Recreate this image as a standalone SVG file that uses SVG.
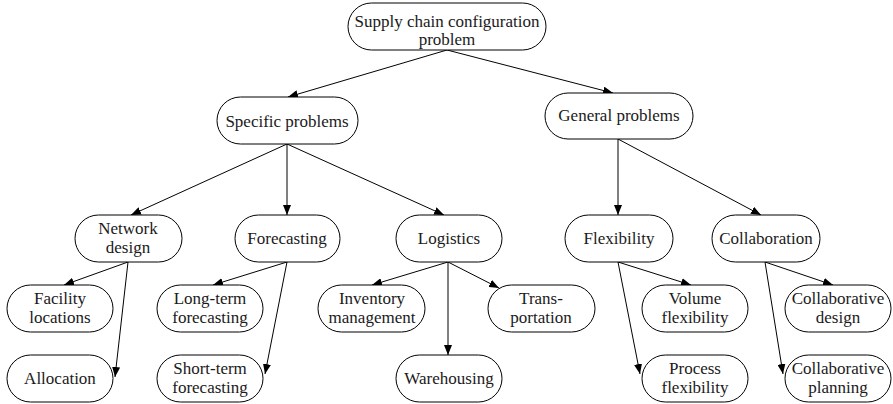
<svg xmlns="http://www.w3.org/2000/svg" width="893" height="404" viewBox="0 0 893 404">
  <style>
    .box { fill: #ffffff; stroke: #000000; stroke-width: 1; }
    .lbl { font-family: "Liberation Serif", "Times New Roman", serif; font-size: 17px; fill: #1a1a1a; text-anchor: middle; }
    .edge { fill: none; stroke: #000000; stroke-width: 1; marker-end: url(#arrow); }
  </style>
  <defs>
    <marker id="arrow" viewBox="0 0 10 8" refX="10" refY="4" markerWidth="10" markerHeight="8" markerUnits="userSpaceOnUse" orient="auto">
      <path d="M0,0 L10,4 L0,8 Z" fill="#000000"/>
    </marker>
  </defs>
  <rect width="893" height="404" fill="#ffffff"/>

  <g id="connectors">
    <path class="edge" d="M447,50 L288,97"/>
    <path class="edge" d="M447,50 L613,93"/>
    <path class="edge" d="M287,144 L131,215"/>
    <path class="edge" d="M287,144 L287,215"/>
    <path class="edge" d="M287,144 L444,215"/>
    <path class="edge" d="M618,139 L618,215"/>
    <path class="edge" d="M618,139 L761,215"/>
    <path class="edge" d="M128,262 L64,285"/>
    <path class="edge" d="M128,262 L115,377"/>
    <path class="edge" d="M287,262 L213,285"/>
    <path class="edge" d="M287,262 L265,374"/>
    <path class="edge" d="M448,262 L372,285"/>
    <path class="edge" d="M448,262 L448,355"/>
    <path class="edge" d="M448,262 L499,288"/>
    <path class="edge" d="M618,262 L691,285"/>
    <path class="edge" d="M618,262 L640,374"/>
    <path class="edge" d="M765,262 L833,285"/>
    <path class="edge" d="M765,262 L783,374"/>
  </g>

  <g id="root">
    <rect class="box" x="348" y="3" width="198" height="47" rx="23.5"/>
    <text class="lbl" x="447" y="27">Supply chain configuration</text>
    <text class="lbl" x="447" y="45">problem</text>
  </g>
  <g id="specific">
    <rect class="box" x="217" y="97" width="141" height="47" rx="23.5"/>
    <text class="lbl" x="287" y="127">Specific problems</text>
  </g>
  <g id="general">
    <rect class="box" x="545" y="93" width="148" height="46" rx="23"/>
    <text class="lbl" x="619" y="121">General problems</text>
  </g>

  <g id="network-design">
    <rect class="box" x="75" y="215" width="107" height="47" rx="23.5"/>
    <text class="lbl" x="128" y="234">Network</text>
    <text class="lbl" x="128" y="253">design</text>
  </g>
  <g id="forecasting">
    <rect class="box" x="235" y="215" width="105" height="47" rx="23.5"/>
    <text class="lbl" x="287" y="244">Forecasting</text>
  </g>
  <g id="logistics">
    <rect class="box" x="396" y="215" width="106" height="47" rx="23.5"/>
    <text class="lbl" x="449" y="244">Logistics</text>
  </g>
  <g id="flexibility">
    <rect class="box" x="565" y="215" width="108" height="47" rx="23.5"/>
    <text class="lbl" x="619" y="244">Flexibility</text>
  </g>
  <g id="collaboration">
    <rect class="box" x="712" y="215" width="108" height="47" rx="23.5"/>
    <text class="lbl" x="766" y="244">Collaboration</text>
  </g>

  <g id="facility-locations">
    <rect class="box" x="7" y="285" width="106" height="47" rx="23.5"/>
    <text class="lbl" x="60" y="304">Facility</text>
    <text class="lbl" x="60" y="323">locations</text>
  </g>
  <g id="allocation">
    <rect class="box" x="7" y="355" width="106" height="47" rx="23.5"/>
    <text class="lbl" x="60" y="384">Allocation</text>
  </g>
  <g id="long-term">
    <rect class="box" x="157" y="285" width="106" height="47" rx="23.5"/>
    <text class="lbl" x="210" y="304">Long-term</text>
    <text class="lbl" x="210" y="323">forecasting</text>
  </g>
  <g id="short-term">
    <rect class="box" x="157" y="355" width="106" height="47" rx="23.5"/>
    <text class="lbl" x="210" y="374">Short-term</text>
    <text class="lbl" x="210" y="393">forecasting</text>
  </g>
  <g id="inventory">
    <rect class="box" x="318" y="285" width="107" height="47" rx="23.5"/>
    <text class="lbl" x="372" y="304">Inventory</text>
    <text class="lbl" x="372" y="323">management</text>
  </g>
  <g id="warehousing">
    <rect class="box" x="396" y="355" width="106" height="47" rx="23.5"/>
    <text class="lbl" x="449" y="384">Warehousing</text>
  </g>
  <g id="transportation">
    <rect class="box" x="488" y="285" width="107" height="47" rx="23.5"/>
    <text class="lbl" x="541" y="304">Trans-</text>
    <text class="lbl" x="541" y="323">portation</text>
  </g>
  <g id="volume-flexibility">
    <rect class="box" x="642" y="285" width="106" height="47" rx="23.5"/>
    <text class="lbl" x="695" y="304">Volume</text>
    <text class="lbl" x="695" y="323">flexibility</text>
  </g>
  <g id="process-flexibility">
    <rect class="box" x="642" y="355" width="106" height="47" rx="23.5"/>
    <text class="lbl" x="695" y="374">Process</text>
    <text class="lbl" x="695" y="393">flexibility</text>
  </g>
  <g id="collaborative-design">
    <rect class="box" x="785" y="285" width="106" height="47" rx="23.5"/>
    <text class="lbl" x="838" y="304">Collaborative</text>
    <text class="lbl" x="838" y="323">design</text>
  </g>
  <g id="collaborative-planning">
    <rect class="box" x="785" y="355" width="106" height="47" rx="23.5"/>
    <text class="lbl" x="838" y="374">Collaborative</text>
    <text class="lbl" x="838" y="393">planning</text>
  </g>
</svg>
